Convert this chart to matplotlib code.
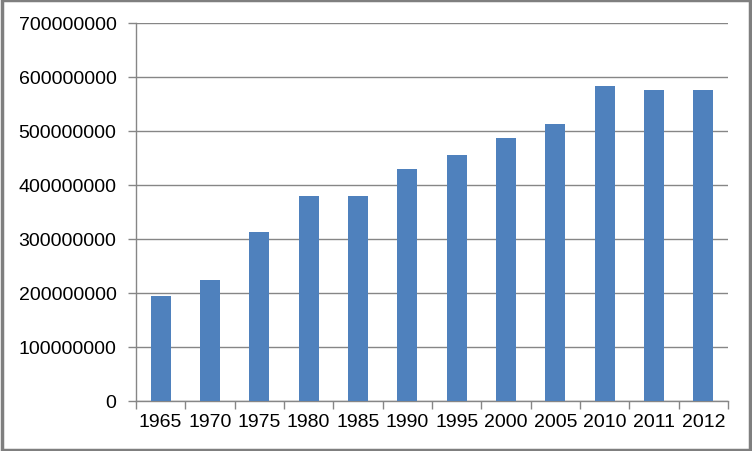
import matplotlib.pyplot as plt
import numpy as np
from matplotlib.patches import Rectangle
from matplotlib.ticker import FixedLocator, FuncFormatter

plt.rcParams['font.family'] = ['Liberation Sans', 'DejaVu Sans']

years = ['1965', '1970', '1975', '1980', '1985', '1990', '1995',
         '2000', '2005', '2010', '2011', '2012']
values = [193e6, 223e6, 312e6, 380e6, 380e6, 429e6, 456e6,
          486e6, 512e6, 584e6, 576e6, 576e6]
y_ticks = [0, 100e6, 200e6, 300e6, 400e6, 500e6, 600e6, 700e6]

bar_color = '#4F81BD'
grid_color = '#868686'

fig = plt.figure(figsize=(7.52, 4.52), dpi=100)
ax = fig.add_axes([136 / 752, 1 - 401.5 / 452, 592 / 752, 377.5 / 452])

x = np.arange(len(years))
ax.bar(x, values, width=0.4, color=bar_color, zorder=3)

ax.set_xlim(-0.5, len(years) - 0.5)
ax.set_ylim(0, 700e6)
ax.set_yticks(y_ticks)
ax.yaxis.set_major_formatter(FuncFormatter(lambda v, p: f"{int(round(v))}"))
ax.yaxis.grid(True, color=grid_color, linewidth=1.0, zorder=0)

ax.set_xticks(x)
ax.set_xticklabels(years)
ax.xaxis.set_minor_locator(FixedLocator(np.arange(-0.5, len(years), 1.0)))
ax.tick_params(axis='x', which='major', length=0, pad=9, labelsize=14)
ax.tick_params(axis='x', which='minor', length=6, width=1, color=grid_color)
ax.tick_params(axis='y', length=6, width=1, color=grid_color, pad=8, labelsize=14)

for s in ['top', 'right']:
    ax.spines[s].set_visible(False)
for s in ['left', 'bottom']:
    ax.spines[s].set_color(grid_color)
    ax.spines[s].set_linewidth(1.0)

# outer chart border
fig.patches.append(Rectangle((0.002, 0.003), 0.996, 0.994, transform=fig.transFigure,
                             fill=False, edgecolor='#7f7f7f', linewidth=2.5))

fig.savefig('out.png', dpi=100)
